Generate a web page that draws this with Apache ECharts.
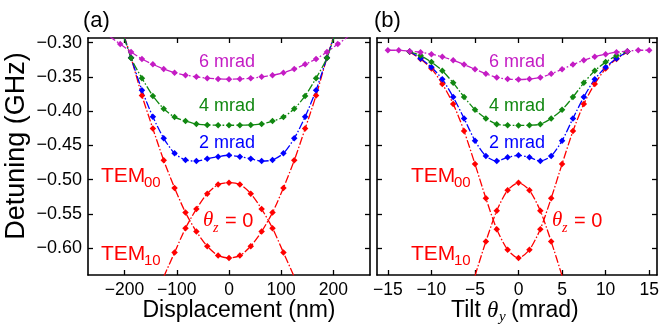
<!DOCTYPE html>
<html>
<head>
<meta charset="utf-8">
<script src="https://cdn.jsdelivr.net/npm/echarts@6/dist/echarts.min.js"></script>
<style>
  html, body { margin: 0; padding: 0; background: #fff; }
  #chart { width: 660px; height: 324px; }
</style>
</head>
<body>
<div id="chart"></div>
<script>
// panel (a): displacement (nm), one entry per step, k = -12 .. 12
const dispA = [-250, -229.2, -208.3, -187.5, -166.7, -145.8, -125, -104.2, -83.3, -62.5, -41.7, -20.8, 0,
  20.8, 41.7, 62.5, 83.3, 104.2, 125, 145.8, 166.7, 187.5, 208.3, 229.2, 250];
const mrad6A = [-0.277, -0.2905, -0.3022, -0.3137, -0.3239, -0.3318, -0.3387, -0.344, -0.3475, -0.35, -0.352, -0.353, -0.3534,
  -0.353, -0.352, -0.35, -0.3475, -0.344, -0.3387, -0.3318, -0.3239, -0.3137, -0.3022, -0.2905, -0.277];
const mrad4A = [null, null, -0.274, -0.3225, -0.352, -0.3778, -0.3966, -0.4088, -0.4146, -0.419, -0.4202, -0.4205, -0.4208,
  -0.4205, -0.4202, -0.419, -0.4146, -0.4088, -0.3966, -0.3778, -0.352, -0.3225, -0.274, null, null];
const mrad2A = [null, null, -0.274, -0.3222, -0.3695, -0.4083, -0.4398, -0.4617, -0.4714, -0.473, -0.4695, -0.4666, -0.4645,
  -0.4666, -0.4695, -0.473, -0.4714, -0.4617, -0.4398, -0.4083, -0.3695, -0.3222, -0.274, null, null];
const tem00A = [null, null, -0.272, -0.3222, -0.3773, -0.4256, -0.4719, -0.5122, -0.5482, -0.5758, -0.5972, -0.611, -0.6146,
  -0.611, -0.5972, -0.5758, -0.5482, -0.5122, -0.4719, -0.4256, -0.3773, -0.3222, -0.272, null, null];
const tem10A = [null, null, null, null, null, null, -0.642, -0.6064, -0.5709, -0.543, -0.5205, -0.5071, -0.5045,
  -0.5071, -0.5205, -0.543, -0.5709, -0.6064, -0.642, null, null, null, null, null, null];

// panel (b): tilt theta_y (mrad)
const tiltB = [-15, -13.75, -12.5, -11.25, -10, -8.75, -7.5, -6.25, -5, -3.75, -2.5, -1.25, 0,
  1.25, 2.5, 3.75, 5, 6.25, 7.5, 8.75, 10, 11.25, 12.5, 13.75, 15];
const mrad6B = [-0.3112, -0.3112, -0.3125, -0.314, -0.317, -0.3208, -0.3258, -0.332, -0.339, -0.3455, -0.351, -0.3532, -0.3539,
  -0.3532, -0.351, -0.3455, -0.339, -0.332, -0.3258, -0.3208, -0.317, -0.314, -0.3125, -0.3112, -0.3112];
const mrad4B = [null, null, -0.313, -0.319, -0.3285, -0.3411, -0.3588, -0.3795, -0.3981, -0.4107, -0.4192, -0.4207, -0.4209,
  -0.4207, -0.4192, -0.4107, -0.3981, -0.3795, -0.3588, -0.3411, -0.3285, -0.319, -0.313, null, null];
const mrad2B = [null, null, -0.313, -0.3232, -0.336, -0.3535, -0.3795, -0.4107, -0.4433, -0.4656, -0.4729, -0.4675, -0.4646,
  -0.4675, -0.4729, -0.4656, -0.4433, -0.4107, -0.3795, -0.3535, -0.336, -0.3232, -0.313, null, null];
const tem00B = [null, null, -0.3135, -0.324, -0.338, -0.3604, -0.3895, -0.4292, -0.4773, -0.5272, -0.5724, -0.6025, -0.6146,
  -0.6025, -0.5724, -0.5272, -0.4773, -0.4292, -0.3895, -0.3604, -0.338, -0.324, -0.3135, null, null];
const tem10B = [null, null, null, null, null, null, null, null, -0.6405, -0.5904, -0.5455, -0.5156, -0.5045,
  -0.5156, -0.5455, -0.5904, -0.6405, null, null, null, null, null, null, null, null];

// ticks
const yTicks = [-0.6, -0.55, -0.5, -0.45, -0.4, -0.35, -0.3];
const dispTicks = [-200, -100, 0, 100, 200];
const tiltTicks = [-15, -10, -5, 0, 5, 10, 15];

const RED = '#ff0000', BLUE = '#0000ff', GREEN = '#118811', MAGENTA = '#c41cc4';
const SANS = '"Liberation Sans", Arial, sans-serif';
const SERIF = '"Liberation Serif", "Times New Roman", serif';

const minus = (s) => s.replace('-', '\u2212');

function xAxes(grid, min, max, ticks) {
  const line = { onZero: false, lineStyle: { color: '#000', width: 1.6 } };
  const tick = { inside: true, length: 5, customValues: ticks, lineStyle: { color: '#000', width: 1.3 } };
  return [{
    gridIndex: grid, type: 'value', min, max, position: 'bottom',
    axisLine: line, axisTick: tick, splitLine: { show: false },
    axisLabel: { customValues: ticks, color: '#000', fontSize: 17.5, fontFamily: SANS, margin: 6,
      formatter: (v) => minus(String(v)) }
  }, {
    gridIndex: grid, type: 'value', min, max, position: 'top',
    axisLine: line, axisTick: tick, splitLine: { show: false }, axisLabel: { show: false }
  }];
}

function yAxes(grid, labels) {
  const line = { onZero: false, lineStyle: { color: '#000', width: 1.6 } };
  const tick = { inside: true, length: 5, customValues: yTicks, lineStyle: { color: '#000', width: 1.3 } };
  return [{
    gridIndex: grid, type: 'value', min: -0.6393, max: -0.2933, position: 'left',
    axisLine: line, axisTick: tick, splitLine: { show: false },
    axisLabel: { show: labels, customValues: yTicks, color: '#000', fontSize: 18, fontFamily: SANS, margin: 6,
      formatter: (v) => minus(v.toFixed(2)) }
  }, {
    gridIndex: grid, type: 'value', min: -0.6393, max: -0.2933, position: 'right',
    axisLine: line, axisTick: tick, splitLine: { show: false }, axisLabel: { show: false }
  }];
}

function curve(xs, ys, color, panel) {
  return {
    type: 'line', xAxisIndex: panel * 2, yAxisIndex: panel * 2,
    data: xs.map((x, i) => [x, ys[i]]).filter((p) => p[1] !== null),
    smooth: 0.25, clip: true,
    symbol: 'diamond', symbolSize: 6.5,
    itemStyle: { color },
    lineStyle: { color, width: 1.3, type: [8, 2, 1.5, 2] },
    animation: false, silent: true
  };
}

function txt(x, y, s, color, size, font, align, italic) {
  return { type: 'text', x, y, style: { text: s, fill: color, font: (italic ? 'italic ' : '') + size + 'px ' + font,
    textAlign: align || 'left', align: align || 'left', textVerticalAlign: 'middle', verticalAlign: 'middle' } };
}

const chart = echarts.init(document.getElementById('chart'), null, { renderer: 'canvas' });
chart.setOption({
  animation: false,
  grid: [
    { left: 88, top: 38, width: 282, height: 237, containLabel: false, outerBoundsMode: 'none' },
    { left: 377, top: 38, width: 280, height: 237, containLabel: false, outerBoundsMode: 'none' }
  ],
  xAxis: [...xAxes(0, -270, 270, dispTicks), ...xAxes(1, -16.25, 15.9, tiltTicks)],
  yAxis: [...yAxes(0, true), ...yAxes(1, false)],
  series: [
    curve(dispA, tem10A, RED, 0), curve(dispA, tem00A, RED, 0),
    curve(dispA, mrad2A, BLUE, 0), curve(dispA, mrad4A, GREEN, 0), curve(dispA, mrad6A, MAGENTA, 0),
    curve(tiltB, tem10B, RED, 1), curve(tiltB, tem00B, RED, 1),
    curve(tiltB, mrad2B, BLUE, 1), curve(tiltB, mrad4B, GREEN, 1), curve(tiltB, mrad6B, MAGENTA, 1)
  ],
  graphic: [
    txt(83, 21, '(a)', '#000', 22, SANS),
    txt(374, 21, '(b)', '#000', 22, SANS),
    // axis titles
    txt(239, 311, 'Displacement (nm)', '#000', 23, SANS, 'center'),
    txt(451, 311, 'Tilt', '#000', 23, SANS),
    txt(487, 311, '\u03b8', '#000', 23, SERIF, 'left', true),
    txt(499, 317, 'y', '#000', 15, SERIF, 'left', true),
    txt(511, 311, '(mrad)', '#000', 23, SANS),
    { type: 'text', x: 17, y: 146, rotation: Math.PI / 2,
      style: { text: 'Detuning (GHz)', fill: '#000', font: '27px ' + SANS,
        textAlign: 'center', align: 'center', textVerticalAlign: 'middle', verticalAlign: 'middle' } },
    // curve labels
    txt(227, 62, '6 mrad', MAGENTA, 18, SANS, 'center'),
    txt(227, 106, '4 mrad', GREEN, 18, SANS, 'center'),
    txt(227, 143, '2 mrad', BLUE, 18, SANS, 'center'),
    txt(517, 62, '6 mrad', MAGENTA, 18, SANS, 'center'),
    txt(517, 106, '4 mrad', GREEN, 18, SANS, 'center'),
    txt(517, 143, '2 mrad', BLUE, 18, SANS, 'center'),
    // TEM labels with subscripts
    txt(101, 176, 'TEM', RED, 21, SANS), txt(144, 183, '00', RED, 15, SANS),
    txt(101, 254, 'TEM', RED, 21, SANS), txt(144, 261, '10', RED, 15, SANS),
    txt(411, 176, 'TEM', RED, 21, SANS), txt(454, 183, '00', RED, 15, SANS),
    txt(411, 254, 'TEM', RED, 21, SANS), txt(454, 261, '10', RED, 15, SANS),
    // theta_z = 0
    txt(203, 220, '\u03b8', RED, 21, SERIF, 'left', true), txt(213, 228, 'z', RED, 14, SERIF, 'left', true),
    txt(225, 221, '= 0', RED, 20, SANS),
    txt(552, 220, '\u03b8', RED, 21, SERIF, 'left', true), txt(562, 228, 'z', RED, 14, SERIF, 'left', true),
    txt(574, 221, '= 0', RED, 20, SANS)
  ]
});
</script>
</body>
</html>
